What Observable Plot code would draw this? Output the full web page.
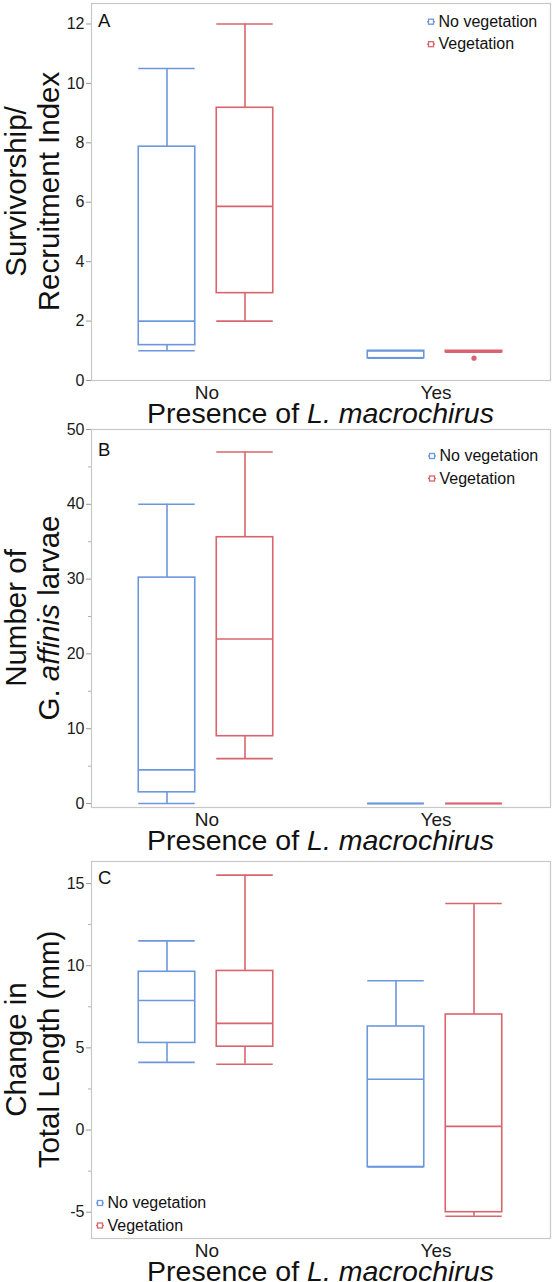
<!DOCTYPE html>
<html><head><meta charset="utf-8">
<script src="https://cdn.jsdelivr.net/npm/d3@7"></script>
<script src="https://cdn.jsdelivr.net/npm/@observablehq/plot@0.6"></script>
<style>
html,body{margin:0;padding:0;background:#fff;}
#chart{position:relative;width:552px;height:1282px;overflow:hidden;font-family:"Liberation Sans",Arial,sans-serif;}
#chart svg{position:absolute;left:0;}
</style></head><body><div id="chart"></div>
<script>
// ---- data ----
const presence = ["No", "Yes"];
const vegetation = ["No vegetation", "Vegetation"];
// group order: No/No vegetation, No/Vegetation, Yes/No vegetation, Yes/Vegetation
const groupPresence = ["No", "No", "Yes", "Yes"];
const groupVegetation = ["No vegetation", "Vegetation", "No vegetation", "Vegetation"];

// Panel A: Survivorship/Recruitment Index
const indexMin    = [1.0, 2.0, 0.75, 0.95];
const indexQ1     = [1.19, 2.94, 0.75, 0.95];
const indexMedian = [2.0, 5.86, 1.0, 1.0];
const indexQ3     = [7.87, 9.18, 1.0, 1.0];
const indexMax    = [10.5, 12.0, 1.0, 1.0];
const indexOutlierPresence = ["Yes"];
const indexOutlierVegetation = ["Vegetation"];
const indexOutlierValue = [0.75];
const indexTicks = [0, 2, 4, 6, 8, 10, 12];

// Panel B: Number of G. affinis larvae
const larvaeMin    = [0, 6.0, 0, 0];
const larvaeQ1     = [1.5, 9.0, 0, 0];
const larvaeMedian = [4.5, 22.0, 0, 0];
const larvaeQ3     = [30.2, 35.6, 0, 0];
const larvaeMax    = [40.0, 47.0, 0, 0];
const larvaeTicks = [0, 10, 20, 30, 40, 50];
const larvaeMinorTicks = [5, 15, 25, 35, 45];

// Panel C: Change in Total Length (mm)
const lengthMin    = [4.12, 4.0, -2.25, -5.25];
const lengthQ1     = [5.3, 5.07, -2.25, -5.0];
const lengthMedian = [7.88, 6.49, 3.09, 0.22];
const lengthQ3     = [9.63, 9.68, 6.3, 7.03];
const lengthMax    = [11.51, 15.51, 9.08, 13.78];
const lengthTicks = [-5, 0, 5, 10, 15];
const lengthMinorTicks = [-2.5, 2.5, 7.5, 12.5];

// ---- layout / style ----
const W = 552, ML = 91, MR = 2;
const bw = (W - ML - MR) / presence.length;
const offsets = {"No vegetation": -40, "Vegetation": 38};
const half = 28.5;
const colors = {"No vegetation": "#6b98dc", "Vegetation": "#d9646f"};
const FONT = "Liberation Sans, Arial, sans-serif";

function rows(mn, q1, md, q3, mx) {
  return groupPresence.map((p, i) => ({presence: p, vegetation: groupVegetation[i],
    min: mn[i], q1: q1[i], median: md[i], q3: q3[i], max: mx[i]}));
}

function boxMarks(data, veg) {
  const d = data.filter(r => r.vegetation === veg);
  const off = offsets[veg], c = colors[veg], sw = 1.6;
  const insetLeft = bw / 2 + off - half, insetRight = bw / 2 - off - half;
  return [
    Plot.ruleX(d, {x: "presence", y1: "min", y2: "q1", dx: off, stroke: c, strokeWidth: sw}),
    Plot.ruleX(d, {x: "presence", y1: "q3", y2: "max", dx: off, stroke: c, strokeWidth: sw}),
    Plot.barY(d, {x: "presence", y1: "q1", y2: "q3", insetLeft, insetRight, fill: "none", stroke: c, strokeWidth: sw}),
    Plot.tickY(d, {x: "presence", y: "median", insetLeft, insetRight, stroke: c, strokeWidth: sw}),
    Plot.tickY(d, {x: "presence", y: "min", insetLeft, insetRight, stroke: c, strokeWidth: sw}),
    Plot.tickY(d, {x: "presence", y: "max", insetLeft, insetRight, stroke: c, strokeWidth: sw})
  ];
}

function panel(cfg) {
  const data = rows(...cfg.stats);
  const height = cfg.marginTop + cfg.frameH + 52;
  const marks = [
    Plot.frame({stroke: "#c8c8c8", strokeWidth: 1.2}),
    Plot.axisY({ticks: cfg.ticks, tickSize: 5, tickPadding: 2, fontSize: 16, stroke: "#9a9a9a", fill: "#1a1a1a", label: null, tickFormat: d => String(d)}),
    Plot.axisX({tickSize: 0, tickPadding: 5, fontSize: 19, fill: "#1a1a1a", label: null})
  ];
  if (cfg.minor) marks.push(Plot.axisY({ticks: cfg.minor, tickSize: 3, stroke: "#b0b0b0", tickFormat: () => "", label: null}));
  for (const v of vegetation) marks.push(...boxMarks(data, v));
  if (cfg.outliers) {
    for (const v of vegetation) {
      const od = cfg.outliers.filter(o => o.vegetation === v);
      marks.push(Plot.dot(od, {x: "presence", y: "value", dx: offsets[v], r: 2.6, fill: colors[v], stroke: "none"}));
    }
  }
  const plot = Plot.plot({
    width: W, height,
    marginLeft: ML, marginRight: MR, marginTop: cfg.marginTop, marginBottom: 52,
    style: {fontFamily: FONT, fontSize: "16px", background: "transparent", overflow: "visible", color: "#1a1a1a"},
    x: {type: "band", domain: presence, padding: 0},
    y: {domain: cfg.domain},
    marks
  });
  plot.style.top = cfg.top + "px";
  const svg = d3.select(plot);
  svg.selectAll("[aria-label='y-axis tick label']").attr("font-size", 16).style("font-size", "16px");
  svg.selectAll("[aria-label='x-axis tick label']").attr("font-size", 19).style("font-size", "19px");
  const fTop = cfg.marginTop, fBot = cfg.marginTop + cfg.frameH;
  const cx = ML + (W - ML - MR) / 2, cy = (fTop + fBot) / 2;
  // x title
  const xt = svg.append("text").attr("x", cx).attr("y", fBot + 42.5).attr("text-anchor", "middle")
    .attr("font-size", 28.5).attr("fill", "#111").attr("font-family", FONT);
  xt.append("tspan").text("Presence of ");
  xt.append("tspan").attr("font-style", "italic").text("L. macrochirus");
  // y title (two lines)
  cfg.yTitle.forEach((line, i) => {
    const t = svg.append("text").attr("transform", `translate(${[26, 59][i]},${cy}) rotate(-90)`)
      .attr("text-anchor", "middle").attr("font-size", 29.5).attr("fill", "#111").attr("font-family", FONT);
    line.forEach(([s, it]) => { const ts = t.append("tspan").text(s); if (it) ts.attr("font-style", "italic"); });
  });
  // panel letter
  svg.append("text").attr("x", ML + 7).attr("y", fTop + cfg.letterDy).attr("font-size", 18.5)
    .attr("text-anchor", "start").attr("fill", "#111").attr("font-family", FONT).text(cfg.letter);
  // legend
  vegetation.forEach((v, i) => {
    const by = cfg.legend[1] + i * 22.5, lx = cfg.legend[0];
    const g = svg.append("g");
    g.append("line").attr("x1", lx).attr("x2", lx + 8).attr("y1", by - 5).attr("y2", by - 5)
      .attr("stroke", colors[v]).attr("stroke-width", 1.3);
    g.append("rect").attr("x", lx + 1.5).attr("y", by - 7.5).attr("width", 5).attr("height", 5)
      .attr("fill", "white").attr("stroke", colors[v]).attr("stroke-width", 1.3);
    g.append("text").attr("x", lx + 11.5).attr("y", by).attr("font-size", 16).attr("fill", "#111")
      .attr("text-anchor", "start").attr("font-family", FONT).text(v);
  });
  document.getElementById("chart").appendChild(plot);
}

panel({
  letter: "A", top: 0, marginTop: 3, frameH: 377, domain: [0, 12.69], ticks: indexTicks,
  stats: [indexMin, indexQ1, indexMedian, indexQ3, indexMax],
  outliers: indexOutlierValue.map((v, i) => ({presence: indexOutlierPresence[i], vegetation: indexOutlierVegetation[i], value: v})),
  yTitle: [[["Survivorship/"]], [["Recruitment Index"]]],
  letterDy: 24, legend: [427, 26.7]
});
panel({
  letter: "B", top: 419, marginTop: 10, frameH: 378, domain: [-0.53, 50], ticks: larvaeTicks, minor: larvaeMinorTicks,
  stats: [larvaeMin, larvaeQ1, larvaeMedian, larvaeQ3, larvaeMax],
  yTitle: [[["Number of"]], [["G. "], ["affinis", true], [" larvae"]]],
  letterDy: 26.5, legend: [428, 42]
});
panel({
  letter: "C", top: 851, marginTop: 10, frameH: 377, domain: [-6.6, 16.34], ticks: lengthTicks, minor: lengthMinorTicks,
  stats: [lengthMin, lengthQ1, lengthMedian, lengthQ3, lengthMax],
  yTitle: [[["Change in"]], [["Total Length (mm)"]]],
  letterDy: 22.5, legend: [96, 357]
});
</script></body></html>
